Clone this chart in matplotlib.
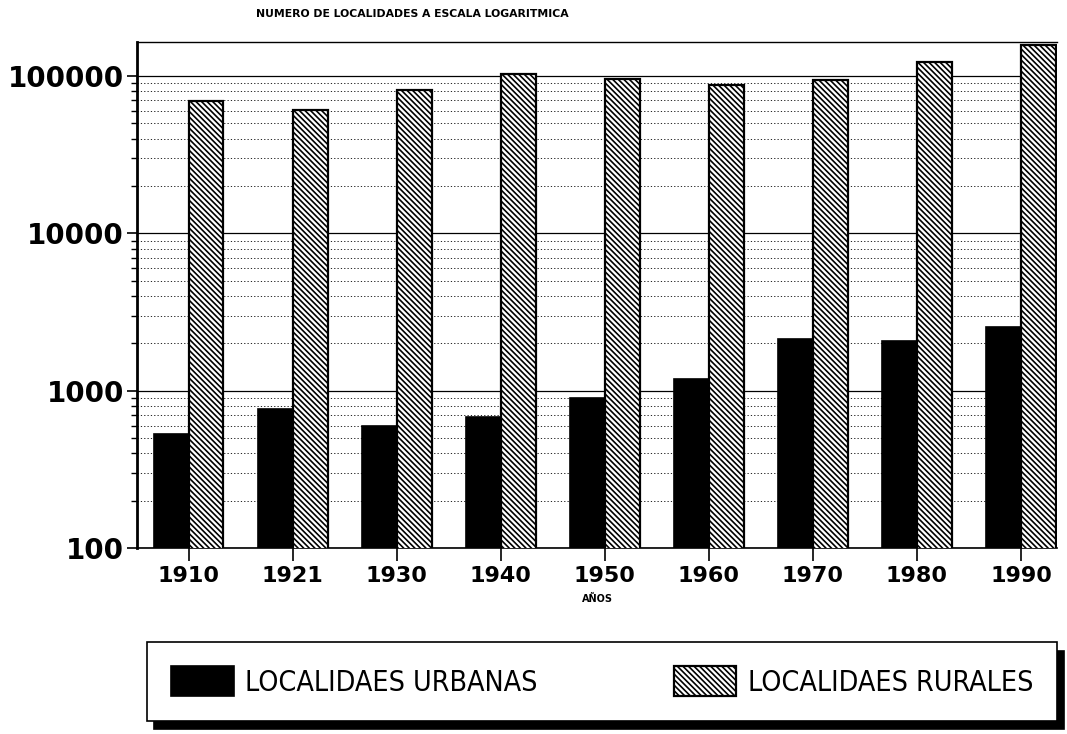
import matplotlib
matplotlib.use("Agg")
import numpy as np
from matplotlib import pyplot as plt
from matplotlib.ticker import LogLocator, NullFormatter, FixedLocator, FixedFormatter

years = ["1910", "1921", "1930", "1940", "1950", "1960", "1970", "1980", "1990"]
urbanas = [530, 770, 595, 680, 905, 1190, 2120, 2060, 2530]
rurales = [69500, 61000, 81500, 103000, 95700, 87700, 94400, 122600, 157000]
y_ticks = [100, 1000, 10000, 100000]
y_labels = ["100", "1000", "10000", "100000"]

plt.rcParams["hatch.linewidth"] = 1.2
plt.rcParams["hatch.color"] = "black"

fig = plt.figure(figsize=(10.67, 7.34), dpi=100)
ax = fig.add_axes([0.128, 0.2534, 0.863, 0.6896])

x = np.arange(len(years))
width = 0.335
ax.bar(x - width / 2, urbanas, width, color="black", edgecolor="black",
       linewidth=1.2, label="LOCALIDAES URBANAS", zorder=3)
ax.bar(x + width / 2, rurales, width, color="white", edgecolor="black",
       linewidth=1.6, hatch="\\" * 6, label="LOCALIDAES RURALES", zorder=3)

ax.set_yscale("log")
ax.set_ylim(100, 165000)
ax.set_xlim(-0.5, 8.35)

ax.yaxis.set_major_locator(FixedLocator(y_ticks))
ax.yaxis.set_major_formatter(FixedFormatter(y_labels))
ax.yaxis.set_minor_locator(LogLocator(base=10, subs=np.arange(2, 10)))
ax.yaxis.set_minor_formatter(NullFormatter())
ax.grid(True, which="major", axis="y", color="black", linewidth=0.9, zorder=1)
ax.grid(True, which="minor", axis="y", color="black", linewidth=0.6,
        linestyle=(0, (1.5, 2.5)), zorder=1)
ax.set_axisbelow(True)

ax.set_xticks(x)
ax.set_xticklabels(years)
ax.tick_params(axis="x", length=9, width=1.2, pad=4, labelsize=16)
ax.tick_params(axis="y", which="major", length=7, width=1.2, pad=2, labelsize=20)
ax.tick_params(axis="y", which="minor", length=4, width=1.0)
for lab in ax.get_xticklabels() + ax.get_yticklabels():
    lab.set_fontweight("bold")
    lab.set_family("DejaVu Sans")

ax.spines["right"].set_visible(False)
ax.spines["left"].set_linewidth(2.0)
ax.spines["bottom"].set_linewidth(1.2)
ax.spines["top"].set_linewidth(1.0)

ax.set_xlabel("AÑOS", fontsize=7, fontweight="bold", labelpad=6)

fig.text(0.386, 0.981, "NUMERO DE LOCALIDADES A ESCALA LOGARITMICA",
         fontsize=7.8, fontweight="bold", ha="center", va="center")

leg = fig.legend(loc="center", ncol=2, mode="expand",
                 bbox_to_anchor=(0.138, 0.019, 0.853, 0.105),
                 prop={"family": "DejaVu Sans", "stretch": "condensed", "size": 20.5},
                 handlelength=2.2, handleheight=1.2, handletextpad=0.4,
                 columnspacing=2.0, fancybox=False, framealpha=1,
                 edgecolor="black", borderpad=0.85, borderaxespad=0,
                 shadow={"ox": 5, "oy": -6, "color": "black", "alpha": 1})
leg.get_frame().set_linewidth(1.2)

fig.savefig("out.png", dpi=100)
